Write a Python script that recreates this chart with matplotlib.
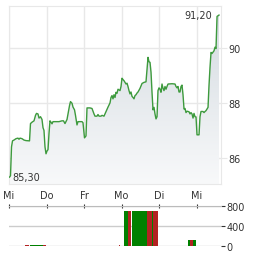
#!/usr/bin/env python3

import matplotlib
matplotlib.use("Agg")
import matplotlib.pyplot as plt
import numpy as np
from matplotlib.colors import LinearSegmentedColormap

#####
##### Data (time in trading days since first "Mi")
#####

DAY_LABELS = ["Mi", "Do", "Fr", "Mo", "Di", "Mi"]

PRICE_T = [0.013, 0.04, 0.067, 0.093, 0.133, 0.187, 0.24, 0.267, 0.293, 0.347,
           0.4, 0.453, 0.547, 0.573, 0.613, 0.667, 0.707, 0.733, 0.773, 0.8,
           0.84, 0.88, 0.907, 0.933, 0.96, 0.987, 1.013, 1.04, 1.067, 1.093,
           1.12, 1.147, 1.173, 1.253, 1.333, 1.413, 1.453, 1.493, 1.547, 1.613,
           1.64, 1.68, 1.707, 1.747, 1.773, 1.8, 1.813, 1.84, 1.947, 1.973,
           2.0, 2.013, 2.053, 2.08, 2.16, 2.213, 2.267, 2.293, 2.347, 2.373,
           2.4, 2.453, 2.48, 2.533, 2.587, 2.64, 2.693, 2.72, 2.747, 2.773,
           2.8, 2.827, 2.853, 2.88, 2.907, 2.96, 2.987, 3.013, 3.04, 3.067,
           3.093, 3.12, 3.147, 3.173, 3.2, 3.227, 3.253, 3.28, 3.307, 3.333,
           3.36, 3.387, 3.413, 3.44, 3.493, 3.547, 3.6, 3.653, 3.68, 3.707,
           3.733, 3.76, 3.787, 3.813, 3.84, 3.867, 3.893, 3.92, 3.947, 3.973,
           4.0, 4.027, 4.053, 4.08, 4.107, 4.133, 4.16, 4.187, 4.213, 4.24,
           4.347, 4.427, 4.453, 4.48, 4.507, 4.533, 4.56, 4.587, 4.613, 4.64,
           4.667, 4.693, 4.72, 4.747, 4.8, 4.827, 4.853, 4.88, 4.907, 4.933,
           4.96, 4.987, 5.013, 5.067, 5.093, 5.12, 5.173, 5.2, 5.227, 5.253,
           5.307, 5.333, 5.36, 5.387, 5.413, 5.44, 5.467, 5.493, 5.52, 5.547,
           5.6]

PRICE = [85.30, 85.35, 86.40, 86.62, 86.65, 86.70, 86.72, 86.68, 86.72, 86.70,
         86.65, 86.63, 86.62, 87.25, 87.30, 87.35, 87.55, 87.62, 87.60, 87.45,
         87.50, 87.40, 87.10, 87.00, 86.40, 86.15, 86.25, 86.30, 86.90, 87.35,
         87.30, 87.24, 87.32, 87.32, 87.32, 87.35, 87.35, 87.25, 87.40, 87.90,
         88.05, 87.99, 87.85, 87.75, 87.55, 87.30, 87.20, 87.32, 87.32, 87.28,
         86.90, 86.73, 86.80, 87.82, 87.82, 87.80, 87.60, 87.52, 87.52, 87.58,
         87.52, 87.52, 87.55, 87.52, 87.69, 87.85, 88.00, 88.20, 88.27, 88.15,
         88.30, 88.20, 88.39, 88.35, 88.50, 88.45, 88.60, 88.90, 88.85, 88.81,
         88.75, 88.69, 88.72, 88.60, 88.45, 88.33, 88.40, 88.24, 88.20, 88.15,
         88.27, 88.30, 88.36, 88.40, 88.53, 88.71, 88.75, 88.77, 89.24, 89.66,
         89.50, 89.48, 89.12, 88.40, 87.75, 87.84, 87.60, 87.42, 87.50, 88.45,
         88.55, 88.50, 88.39, 88.69, 88.53, 88.45, 88.60, 88.50, 88.60, 88.69,
         88.70, 88.69, 88.60, 88.55, 88.60, 88.40, 88.40, 88.60, 88.65, 88.30,
         87.78, 87.80, 87.65, 87.70, 87.68, 87.60, 87.65, 87.60, 87.45, 87.62,
         87.50, 87.49, 86.84, 86.84, 87.50, 87.69, 87.69, 87.65, 87.69, 87.72,
         87.84, 88.63, 89.30, 89.84, 89.80, 89.85, 89.90, 90.03, 89.98, 91.15,
         91.20]

# volume bars: interval start / end, volume, up (True) or down
VOL_START = [0.427, 0.56, 0.907, 2.92, 3.067, 3.173, 3.275, 3.288, 3.688, 3.813,
             3.84, 4.773, 4.827, 4.907]
VOL_END = [0.533, 0.907, 0.987, 2.947, 3.173, 3.261, 3.288, 3.688, 3.813, 3.84,
           3.973, 4.827, 4.907, 4.987]
VOL = [15, 30, 30, 15, 710, 710, 710, 710, 710, 710, 710, 120, 120, 120]
VOL_UP = [False, True, False, False, True, False, False, True, False, True,
          False, True, False, True]

PRICE_TICKS = [86, 88, 90]
VOL_TICKS = [0, 400, 800]

#####
##### Style
#####

COL_LINE = "#3d9a3d"
COL_UP = "#008000"
COL_DOWN = "#b22222"
COL_GRID = "#e8e8e8"
COL_TEXT = "#333333"
FONT_SIZE = 7

plt.rc('font', family='DejaVu Sans', size=FONT_SIZE)

fig = plt.figure(figsize=(2.64, 2.55), dpi=100)
ax = fig.add_axes([9/264, 1-185/255, 212/264, 178/255])
axv = fig.add_axes([9/264, 1-247/255, 212/264, 40/255])

XLIM = (0, 5.653)

### Price panel
ax.set_xlim(*XLIM)
ax.set_ylim(85.05, 91.53)

fill = ax.fill_between(PRICE_T, PRICE, 85.05, color="none")
cmap = LinearSegmentedColormap.from_list("fade", ["#f8f9fa", "#d3dae0"])
grad = np.linspace(0, 1, 256).reshape(-1, 1)
img = ax.imshow(grad, cmap=cmap, origin="lower", aspect="auto",
                extent=[XLIM[0], XLIM[1], 85.05, 91.53], zorder=1)
img.set_clip_path(fill.get_paths()[0], transform=ax.transData)

ax.plot(PRICE_T, PRICE, color=COL_LINE, lw=1.0, zorder=3)

ax.set_xticks(range(len(DAY_LABELS)))
ax.set_xticklabels(DAY_LABELS)
ax.set_yticks(PRICE_TICKS)
ax.yaxis.tick_right()
ax.grid(True, color=COL_GRID, lw=1)
ax.set_axisbelow(True)
ax.tick_params(axis='x', length=0, pad=4, colors=COL_TEXT)
ax.tick_params(axis='y', length=4, pad=1.5, color=COL_GRID, labelcolor=COL_TEXT)
for s in ax.spines.values():
    s.set_color(COL_GRID)

ax.annotate("91,20", xy=(PRICE_T[-1], PRICE[-1]), xytext=(-5, 0),
            textcoords="offset points", ha="right", va="center", color=COL_TEXT)
ax.annotate("85,30", xy=(PRICE_T[0], PRICE[0]), xytext=(2, 0),
            textcoords="offset points", ha="left", va="center", color=COL_TEXT)

### Volume panel
axv.set_xlim(*XLIM)
axv.set_ylim(0, 800)
widths = [e - s for s, e in zip(VOL_START, VOL_END)]
colors = [COL_UP if u else COL_DOWN for u in VOL_UP]
axv.bar(VOL_START, VOL, width=widths, align="edge", color=colors, lw=0, zorder=3)

axv.set_yticks(VOL_TICKS)
axv.yaxis.tick_right()
axv.grid(True, axis='y', color="#cccccc", lw=1)
axv.set_axisbelow(True)
axv.tick_params(axis='y', length=3, pad=1, color=COL_TEXT, labelcolor=COL_TEXT)
axv.set_xticks(range(len(DAY_LABELS)))
axv.tick_params(axis='x', top=True, bottom=False, labeltop=False, labelbottom=False,
                direction='inout', length=3, color=COL_TEXT)
for s in axv.spines.values():
    s.set_visible(False)
axv.spines['top'].set_visible(True)
axv.spines['top'].set_color("#bbbbbb")

plt.savefig("out.png", dpi=100)
